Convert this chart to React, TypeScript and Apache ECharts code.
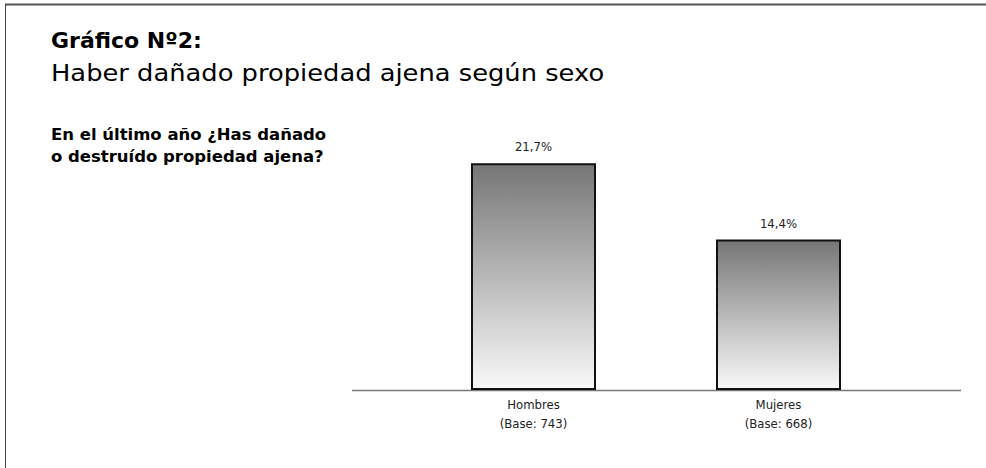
import React, { useEffect, useRef } from "react";
import * as echarts from "echarts";

const categories = ["Hombres\n(Base: 743)", "Mujeres\n(Base: 668)"];
const values = [21.7, 14.4];
const titleText = "Gráfico Nº2:";
const subtitleText = "Haber dañado propiedad ajena según sexo";
const questionLines = ["En el último año ¿Has dañado", "o destruído propiedad ajena?"];

const FONT = "'DejaVu Sans', sans-serif";
const COND = "'DejaVu Sans Condensed', 'Liberation Sans Narrow', 'DejaVu Sans', sans-serif";

export default function App() {
  const ref = useRef<HTMLDivElement>(null);
  useEffect(() => {
    if (!ref.current) return;
    const chart = echarts.init(ref.current, undefined, { renderer: "svg" });
    chart.setOption({
      animation: false,
      backgroundColor: "#ffffff",
      grid: { left: 411, width: 490, top: 128.75, bottom: 78 },
      xAxis: {
        type: "category",
        data: categories,
        axisLine: { show: false },
        axisTick: { show: false },
        axisLabel: {
          margin: 5,
          fontFamily: COND,
          fontSize: 13,
          lineHeight: 19,
          color: "#222",
        },
      },
      yAxis: {
        type: "value",
        min: 0,
        max: 25,
        show: false,
        splitLine: { show: false },
      },
      series: [
        {
          type: "bar",
          data: values,
          barWidth: 125,
          itemStyle: {
            borderColor: "#111",
            borderWidth: 2,
            color: new echarts.graphic.LinearGradient(0, 0, 0, 1, [
              { offset: 0, color: "#767676" },
              { offset: 0.5, color: "#b8b8b8" },
              { offset: 1, color: "#f9f9f9" },
            ]),
          },
          label: {
            show: true,
            position: "top",
            distance: 10,
            fontFamily: COND,
            fontSize: 13,
            color: "#222",
            formatter: (p: any) => String(p.value).replace(".", ",") + "%",
          },
          z: 3,
        },
      ],
      graphic: [
        { type: "line", shape: { x1: 5, y1: 4.5, x2: 986, y2: 4.5 }, style: { stroke: "#555", lineWidth: 2 }, z: 0 },
        { type: "line", shape: { x1: 5.5, y1: 4, x2: 5.5, y2: 468 }, style: { stroke: "#444", lineWidth: 1 }, z: 0 },
        { type: "line", shape: { x1: 352, y1: 390.5, x2: 961, y2: 390.5 }, style: { stroke: "#777", lineWidth: 1.5 }, z: 0 },
        {
          type: "text", x: 51, y: 40,
          style: { text: titleText, fill: "#000", font: `bold 22px ${FONT}`, textAlign: "left", verticalAlign: "middle" },
        },
        {
          type: "text", x: 51, y: 73, scaleX: 1.12,
          style: { text: subtitleText, fill: "#000", font: `23px ${FONT}`, textAlign: "left", verticalAlign: "middle" },
        },
        {
          type: "text", x: 51, y: 135, scaleX: 1.03,
          style: { text: questionLines[0], fill: "#000", font: `bold 16px ${FONT}`, textAlign: "left", verticalAlign: "middle" },
        },
        {
          type: "text", x: 51, y: 157, scaleX: 1.03,
          style: { text: questionLines[1], fill: "#000", font: `bold 16px ${FONT}`, textAlign: "left", verticalAlign: "middle" },
        },
      ],
    });
    return () => chart.dispose();
  }, []);
  return (
    <div
      ref={ref}
      style={{ position: "fixed", left: 0, top: 0, width: 986, height: 468 }}
    />
  );
}
